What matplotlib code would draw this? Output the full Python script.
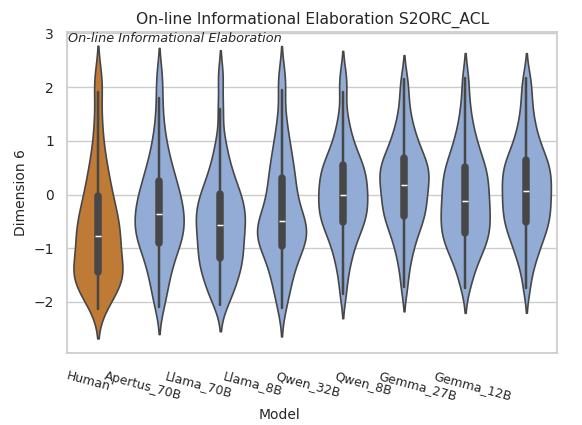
import matplotlib
matplotlib.use('Agg')
from matplotlib import pyplot as plt
import matplotlib.transforms as mtransforms
import seaborn as sns
import pandas as pd

sns.set_theme(style='whitegrid')
plt.rcParams['font.family'] = ['DejaVu Sans']

# values (sorted quantiles: index 10 = Q1, 20 = median, 30 = Q3)
models = ['Human', 'Apertus_70B', 'Llama_70B', 'Llama_8B',
          'Qwen_32B', 'Qwen_8B', 'Gemma_27B', 'Gemma_12B']
human = [-2.13, -2.005, -1.905, -1.815, -1.735, -1.665, -1.605, -1.555, -1.515, -1.48, -1.45,
         -1.38, -1.31, -1.25, -1.18, -1.11, -1.04, -0.97, -0.91, -0.84, -0.77,
         -0.71, -0.65, -0.58, -0.52, -0.45, -0.37, -0.29, -0.21, -0.12, -0.03,
         0.08, 0.20, 0.32, 0.46, 0.62, 0.82, 1.10, 1.45, 1.91, 2.22]
apertus_70b = [-2.10, -1.875, -1.705, -1.56, -1.435, -1.325, -1.225, -1.135, -1.055, -0.98, -0.91,
               -0.855, -0.80, -0.75, -0.695, -0.64, -0.585, -0.53, -0.48, -0.425, -0.37,
               -0.318, -0.264, -0.208, -0.15, -0.09, -0.028, 0.036, 0.103, 0.174, 0.25,
               0.33, 0.42, 0.52, 0.63, 0.76, 0.92, 1.12, 1.40, 1.80, 2.23]
llama_70b = [-2.06, -1.91, -1.80, -1.70, -1.61, -1.52, -1.45, -1.38, -1.31, -1.25, -1.19,
             -1.13, -1.06, -1.00, -0.94, -0.875, -0.81, -0.75, -0.69, -0.625, -0.56,
             -0.51, -0.46, -0.405, -0.35, -0.295, -0.235, -0.175, -0.115, -0.05, 0.01,
             0.08, 0.16, 0.25, 0.35, 0.47, 0.61, 0.79, 1.05, 1.60, 2.20]
llama_8b = [-2.12, -1.88, -1.72, -1.585, -1.465, -1.36, -1.26, -1.175, -1.095, -1.025, -0.96,
            -0.915, -0.865, -0.82, -0.77, -0.725, -0.68, -0.63, -0.585, -0.535, -0.49,
            -0.435, -0.375, -0.31, -0.235, -0.155, -0.065, 0.025, 0.115, 0.205, 0.30,
            0.40, 0.50, 0.61, 0.73, 0.87, 1.03, 1.22, 1.50, 1.95, 2.24]
qwen_32b = [-1.85, -1.508, -1.298, -1.138, -1.008, -0.898, -0.803, -0.72, -0.646, -0.58, -0.52,
            -0.47, -0.415, -0.365, -0.31, -0.26, -0.21, -0.155, -0.105, -0.05, 0.00,
            0.05, 0.105, 0.16, 0.21, 0.27, 0.32, 0.375, 0.43, 0.485, 0.54,
            0.60, 0.67, 0.75, 0.84, 0.95, 1.08, 1.25, 1.48, 1.91, 2.22]
qwen_8b = [-1.73, -1.388, -1.178, -1.018, -0.888, -0.778, -0.683, -0.60, -0.526, -0.46, -0.40,
           -0.34, -0.285, -0.225, -0.17, -0.11, -0.05, 0.005, 0.065, 0.12, 0.18,
           0.23, 0.28, 0.33, 0.38, 0.43, 0.48, 0.53, 0.58, 0.63, 0.68,
           0.75, 0.83, 0.91, 1.00, 1.10, 1.22, 1.37, 1.57, 1.85, 2.15]
gemma_27b = [-1.74, -1.493, -1.333, -1.213, -1.113, -1.028, -0.953, -0.885, -0.823, -0.765, -0.71,
             -0.65, -0.59, -0.535, -0.475, -0.415, -0.355, -0.295, -0.24, -0.18, -0.12,
             -0.055, 0.005, 0.07, 0.13, 0.195, 0.26, 0.32, 0.385, 0.445, 0.51,
             0.58, 0.66, 0.75, 0.85, 0.96, 1.09, 1.25, 1.46, 1.76, 2.17]
gemma_12b = [-1.74, -1.393, -1.223, -1.088, -0.975, -0.877, -0.791, -0.714, -0.644, -0.58, -0.52,
             -0.46, -0.40, -0.345, -0.285, -0.225, -0.165, -0.105, -0.05, 0.01, 0.07,
             0.125, 0.185, 0.24, 0.30, 0.355, 0.41, 0.47, 0.525, 0.585, 0.64,
             0.71, 0.79, 0.88, 0.98, 1.10, 1.24, 1.41, 1.63, 1.90, 2.17]
series = [human, apertus_70b, llama_70b, llama_8b, qwen_32b, qwen_8b, gemma_27b, gemma_12b]

colors = ['#bf7a35'] + ['#92acd6'] * 7

rows = []
for name, vals in zip(models, series):
    for v in vals:
        rows.append({'Model': name, 'value': v})
df = pd.DataFrame(rows)

fig, ax = plt.subplots(figsize=(5.82, 4.25), dpi=100)
fig.subplots_adjust(left=0.1157, right=0.957, bottom=0.1694, top=0.9254)

sns.violinplot(data=df, x='Model', y='value', hue='Model', order=models,
               palette=dict(zip(models, colors)), saturation=1, legend=False,
               inner='box', density_norm='width', bw_adjust=0.6, cut=1.8,
               linewidth=1.2, linecolor='#474747', ax=ax)

ax.set_ylim(-2.95, 3.03)
ax.set_xlim(-0.5, 7.5)
ax.set_title('On-line Informational Elaboration S2ORC_ACL', fontsize=11.2)
ax.set_ylabel('Dimension 6', fontsize=10)
ax.set_xlabel('Model', fontsize=10)
ax.tick_params(axis='y', labelsize=10)
ax.tick_params(axis='x', labelsize=9, pad=6)
plt.setp(ax.get_xticklabels(), rotation=-15)
ax.text(0.002, 0.998, 'On-line Informational Elaboration', transform=ax.transAxes,
        ha='left', va='top', fontsize=9.3, style='italic', color='#262626')

# x labels sit left of the ticks in the original, drifting more to the right
for i, lab in enumerate(ax.get_xticklabels()):
    dx = -(9.5 + 6.3 * i) / 100
    lab.set_transform(lab.get_transform() + mtransforms.ScaledTranslation(dx, 0, fig.dpi_scale_trans))
ax.xaxis.set_label_coords(0.434, -0.171)

plt.savefig('out.png')
